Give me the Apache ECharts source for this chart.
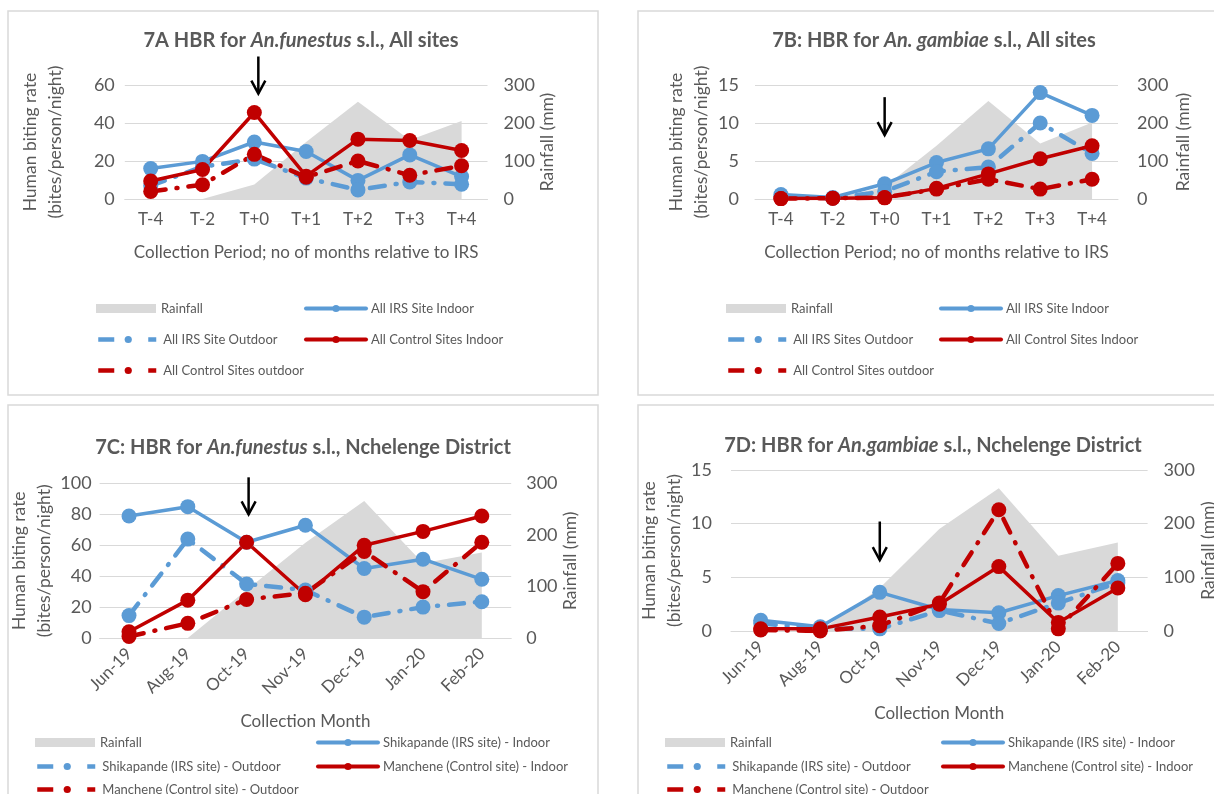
<!DOCTYPE html>
<html><head><meta charset="utf-8">
<script src="https://cdn.jsdelivr.net/npm/echarts@6/dist/echarts.min.js"></script>
<style>html,body{margin:0;padding:0;background:#fff}#c{width:1214px;height:794px}</style>
</head><body><div id="c"></div>
<script>
// ---------- DATA ----------
const catsAB = ['T-4','T-2','T+0','T+1','T+2','T+3','T+4'];
const catsCD = ['Jun-19','Aug-19','Oct-19','Nov-19','Dec-19','Jan-20','Feb-20'];

// 7A  An. funestus, all sites
const rainA    = [0, 0, 38, 150, 256, 155, 205];
const irsInA   = [16, 19.8, 30, 25, 9.8, 23.2, 11.8];
const irsOutA  = [7, 17, 21, 11, 4.8, 9, 7.8];
const ctrlInA  = [9.5, 15.5, 45.5, 12, 31.5, 30.8, 25.5];
const ctrlOutA = [4, 7.5, 23.5, 11.5, 20, 12.5, 17.5];

// 7B  An. gambiae, all sites
const rainB    = [0, 0, 32, 140, 258, 146, 201];
const irsInB   = [0.6, 0.2, 2.0, 4.8, 6.6, 14, 11];
const irsOutB  = [0.3, 0.1, 1.0, 3.6, 4.2, 10, 6];
const ctrlInB  = [0.05, 0.1, 0.15, 1.4, 3.3, 5.3, 7];
const ctrlOutB = [0.05, 0.1, 0.2, 1.3, 2.6, 1.3, 2.6];

// 7C  An. funestus, Nchelenge
const rainC    = [0, 0, 93, 185, 266, 145, 166];
const irsInC   = [79, 85, 62, 73, 45, 51, 38];
const irsOutC  = [14.5, 64, 35, 31, 13.5, 20, 23.5];
const ctrlInC  = [4, 24.5, 62, 28, 60, 69, 79];
const ctrlOutC = [1, 9.5, 25, 29, 56, 30, 62];

// 7D  An. gambiae, Nchelenge
const rainD    = [0, 0, 80, 190, 266, 140, 165];
const irsInD   = [1.0, 0.4, 3.6, 2.0, 1.7, 3.3, 4.7];
const irsOutD  = [0.7, 0.2, 0.2, 1.9, 0.7, 2.6, 4.5];
const ctrlInD  = [0.2, 0.2, 1.3, 2.5, 6.0, 0.8, 4.0];
const ctrlOutD = [0.1, 0.0, 0.5, 2.6, 11.3, 0.2, 6.3];

const leftMax      = [60, 15, 100, 15];
const leftInterval = [20, 5, 20, 5];
const rightMax = 300, rightInterval = 100;

const namesAll  = ['Rainfall','All IRS Site Indoor','All IRS Site Outdoor','All Control Sites Indoor','All Control Sites outdoor'];
const namesAllB = ['Rainfall','All IRS Site Indoor','All IRS Sites Outdoor','All Control Sites Indoor','All Control Sites outdoor'];
const namesNch  = ['Rainfall','Shikapande (IRS site) - Indoor','Shikapande (IRS site) - Outdoor','Manchene (Control site) - Indoor','Manchene (Control site) - Outdoor'];

const titles = [
  ['7A HBR for ', 'An.funestus', ' s.l., All sites'],
  ['7B: HBR for ', 'An. gambiae', ' s.l., All sites'],
  ['7C: HBR for ', 'An.funestus', ' s.l., Nchelenge District'],
  ['7D: HBR for ', 'An.gambiae', ' s.l., Nchelenge District']
];
const xTitles = ['Collection Period; no of months relative to IRS','Collection Period; no of months relative to IRS','Collection Month','Collection Month'];
const yLeftTitle = 'Human biting rate\n(bites/person/night)';
const yRightTitle = 'Rainfall (mm)';
// IRS arrow annotation (category, top value, bottom value on left axis)
const arrowCat = ['T+0','T+0','Oct-19','Oct-19'];
const arrowTop = [75, 13.4, 104, 10.2];
const arrowBot = [55.5, 8.4, 80, 6.6];

// ---------- STYLE / LAYOUT ----------
const FONT = 'Lato, "Open Sans", sans-serif';
const TXT = '#595959', GRID = '#d9d9d9', GRAY = '#d9d9d9', BLUE = '#5b9bd5', RED = '#c00000';
const grids = [
  {left:124.8, top:85, width:362.7, height:114},
  {left:755, top:85, width:363, height:114},
  {left:99.6, top:483.5, width:411.6, height:154.5},
  {left:731, top:470, width:416.6, height:161}
];
const L = [ // per panel layout
  {titleX:301, titleY:31, lMargin:10, rMargin:16, lGap:57, rGap:50, xGap:45, legX:[96,304], legY:[302,333,364], arrowDx:4},
  {titleX:934, titleY:31, lMargin:16, rMargin:19, lGap:37.5, rGap:56, xGap:45, legX:[726,939], legY:[302,333,364], arrowDx:0},
  {titleX:303, titleY:438, lMargin:8, rMargin:15, lGap:39, rGap:46.5, xGap:75, legX:[35,316], legY:[736,760,783], arrowDx:2},
  {titleX:933, titleY:436, lMargin:19, rMargin:16, lGap:38.5, rGap:51.5, xGap:74, legX:[665,941], legY:[736,760,783], arrowDx:0}
];

const panels = [
  {cats:catsAB, names:namesAll,  d:[rainA, irsInA, irsOutA, ctrlInA, ctrlOutA]},
  {cats:catsAB, names:namesAllB, d:[rainB, irsInB, irsOutB, ctrlInB, ctrlOutB]},
  {cats:catsCD, names:namesNch,  d:[rainC, irsInC, irsOutC, ctrlInC, ctrlOutC]},
  {cats:catsCD, names:namesNch,  d:[rainD, irsInD, irsOutD, ctrlInD, ctrlOutD]}
];

const DASH = [15, 11, 1, 11];
const LEGEND_DASH = [16, 34, 8, 100];
function lineSeries(name, color, data, p, dashed) {
  return {
    name, type:'line', xAxisIndex:p, yAxisIndex:2*p, data, color,
    symbol:'circle', symbolSize: 15, showSymbol:true,
    itemStyle:{color},
    lineStyle:{color, width: dashed ? 4.5 : 3.5, type: dashed ? DASH : 'solid', cap:'round'},
    z: 3, animation:false
  };
}

const option = {
  animation:false,
  backgroundColor:'#fff',
  title: [], grid: [], xAxis: [], yAxis: [], series: [], legend: [],
  graphic: []
};

// frames
[[8,11,590,384],[638,11,600,384],[8,405,590,400],[638,405,600,400]].forEach(r=>{
  option.graphic.push({type:'rect', silent:true, z:-10, shape:{x:r[0],y:r[1],width:r[2],height:r[3]}, style:{fill:'none', stroke:'#d9d9d9', lineWidth:1.5}});
});

panels.forEach((P, p) => {
  const lay = L[p];
  option.grid.push(Object.assign({outerBoundsMode:'none', containLabel:false}, grids[p]));
  const t = titles[p];
  option.title.push({
    text: '{b|' + t[0] + '}{i|' + t[1] + '}{b|' + t[2] + '}',
    left: lay.titleX, top: lay.titleY, textAlign:'center', padding:0,
    textStyle:{ rich:{
      b:{fontFamily:FONT, fontSize:20, fontWeight:'bold', color:TXT},
      i:{fontFamily:FONT, fontSize:20, fontWeight:'bold', fontStyle:'italic', color:TXT}
    }}
  });
  option.xAxis.push({
    type:'category', gridIndex:p, data:P.cats, boundaryGap:true,
    axisTick:{show:false},
    axisLine:{show:true, lineStyle:{color:GRID, width:1}},
    axisLabel:{color:TXT, fontFamily:FONT, fontSize:17, interval:0, rotate: p>=2 ? 45 : 0, margin: p>=2 ? 13 : 12},
    name: xTitles[p], nameLocation:'middle', nameGap: lay.xGap,
    nameTextStyle:{color:TXT, fontFamily:FONT, fontSize:17}
  });
  option.yAxis.push({
    type:'value', gridIndex:p, min:0, max:leftMax[p], interval:leftInterval[p], position:'left',
    axisLine:{show:false}, axisTick:{show:false},
    splitLine:{show:true, lineStyle:{color:GRID, width:1}},
    axisLabel:{color:TXT, fontFamily:FONT, fontSize:18, margin:lay.lMargin},
    name: yLeftTitle, nameLocation:'middle', nameRotate:90, nameGap: lay.lGap,
    nameTextStyle:{color:TXT, fontFamily:FONT, fontSize:17.5, lineHeight:25, align:'center'}
  });
  option.yAxis.push({
    type:'value', gridIndex:p, min:0, max:rightMax, interval:rightInterval, position:'right',
    axisLine:{show:false}, axisTick:{show:false}, splitLine:{show:false},
    axisLabel:{color:TXT, fontFamily:FONT, fontSize:18, margin:lay.rMargin},
    name: yRightTitle, nameLocation:'middle', nameRotate:90, nameGap: lay.rGap,
    nameTextStyle:{color:TXT, fontFamily:FONT, fontSize:17.5}
  });
  const n = P.names, d = P.d;
  option.series.push({
    name:n[0], type:'line', xAxisIndex:p, yAxisIndex:2*p+1, data:d[0], color:GRAY,
    showSymbol:false, symbol:'none', lineStyle:{width:0, color:GRAY}, itemStyle:{color:GRAY},
    areaStyle:{color:GRAY, opacity:1}, z:1, silent:true
  });
  option.series.push(lineSeries(n[1], BLUE, d[1], p, false));
  option.series.push(lineSeries(n[2], BLUE, d[2], p, true));
  option.series.push(lineSeries(n[3], RED, d[3], p, false));
  option.series.push(lineSeries(n[4], RED, d[4], p, true));

  const pos = [[0,0],[1,0],[0,1],[1,1],[0,2]];
  pos.forEach((ps, k) => {
    let item;
    if (k === 0) item = {name:n[0], icon:'rect', itemStyle:{color:GRAY}};
    else if (k === 2 || k === 4) item = {name:n[k], lineStyle:{width:4.5, type:LEGEND_DASH, cap:'butt'}};
    else item = {name:n[k], lineStyle:{width:4}};
    option.legend.push({
      left: lay.legX[ps[0]], top: lay.legY[ps[1]], padding:0, selectedMode:false,
      itemWidth:60, itemHeight:9, itemGap:0,
      textStyle:{color:TXT, fontFamily:FONT, fontSize:13},
      data:[item]
    });
  });
});

const chart = echarts.init(document.getElementById('c'), null, {renderer:'canvas'});
chart.setOption(option);

// arrows
const g = [];
for (let p = 0; p < 4; p++) {
  const a = chart.convertToPixel({xAxisIndex:p, yAxisIndex:2*p}, [arrowCat[p], arrowTop[p]]);
  const b = chart.convertToPixel({xAxisIndex:p, yAxisIndex:2*p}, [arrowCat[p], arrowBot[p]]);
  const x = a[0] + L[p].arrowDx;
  g.push({type:'polyline', silent:true, z:20, shape:{points:[[x,a[1]],[x,b[1]]]}, style:{stroke:'#000', lineWidth:2.5, fill:null}});
  g.push({type:'polyline', silent:true, z:20, shape:{points:[[x-7,b[1]-13],[x,b[1]],[x+7,b[1]-13]]}, style:{stroke:'#000', lineWidth:2.5, fill:null}});
}
chart.setOption({graphic: option.graphic.concat(g)});
</script></body></html>
